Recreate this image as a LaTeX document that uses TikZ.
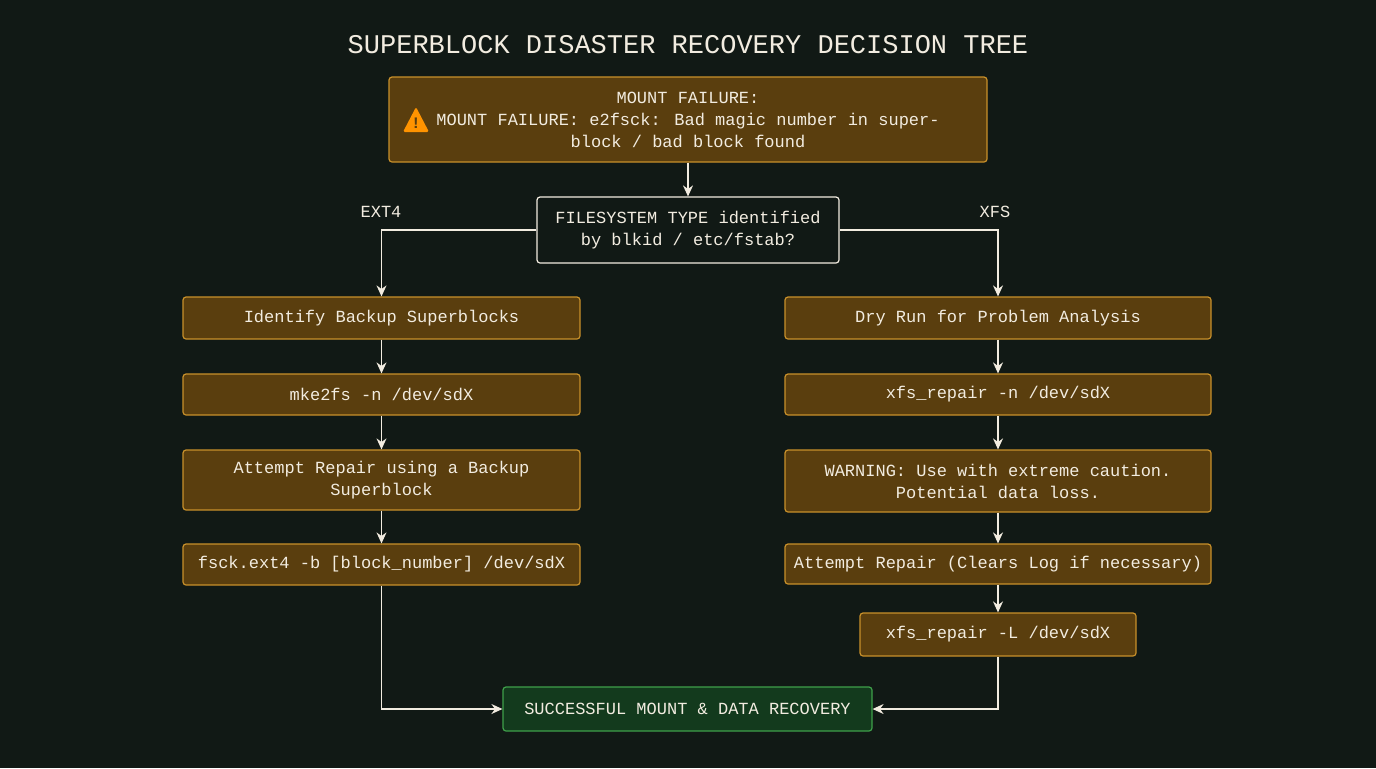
\documentclass[tikz,border=0pt]{standalone}
\usepackage{fontspec}
\setmainfont{Liberation Mono}
\usetikzlibrary{arrows.meta}
\definecolor{bgc}{HTML}{111915}
\definecolor{stepfill}{HTML}{5A3E0E}
\definecolor{stepline}{HTML}{C8902A}
\definecolor{okfill}{HTML}{133A1D}
\definecolor{okline}{HTML}{3FA04A}
\definecolor{txt}{HTML}{F2ECE0}
\begin{document}
\begin{tikzpicture}[x=0.5pt,y=-0.5pt,
    every node/.style={text=txt,font=\fontsize{8.5}{11}\selectfont,align=center},
    stage/.style={draw=stepline,fill=stepfill,rounded corners=1.5pt,line width=0.6pt,inner sep=0pt},
    ok/.style={draw=okline,fill=okfill,rounded corners=1.5pt,line width=0.6pt,inner sep=0pt},
    ask/.style={draw=txt,fill=bgc,rounded corners=1.5pt,line width=0.6pt,inner sep=0pt},
    link/.style={draw=txt,line width=0.6pt,-{Stealth[length=5.5pt,width=5pt]}}]

  \fill[bgc] (0,0) rectangle (1376,768);

  \node (title) at (688,45) {\fontsize{13.5}{15}\selectfont SUPERBLOCK DISASTER RECOVERY DECISION TREE};

  \node[stage,minimum width=299pt,minimum height=42.5pt] (fail) at (688,119.5)
    {MOUNT FAILURE:\\MOUNT FAILURE: e2fsck: Bad magic number in super-\\block / bad block found};
  \fill[orange!85!yellow,rounded corners=0.8pt] (403,132) -- (416,107) -- (429,132) -- cycle;
  \node[text=stepfill,font=\bfseries\fontsize{8}{8}\selectfont] (warnmark) at (416,123) {!};

  \node[ask,minimum width=151pt,minimum height=33pt] (fs) at (688,230)
    {FILESYSTEM TYPE identified\\by blkid / etc/fstab?};

  % ext4 side
  \node[stage,minimum width=198.5pt,minimum height=21pt] (e1) at (381.5,318) {Identify Backup Superblocks};
  \node[stage,minimum width=198.5pt,minimum height=20.5pt] (e2) at (381.5,394.5) {mke2fs -n /dev/sdX};
  \node[stage,minimum width=198.5pt,minimum height=30pt] (e3) at (381.5,480) {Attempt Repair using a Backup\\Superblock};
  \node[stage,minimum width=198.5pt,minimum height=20.5pt] (e4) at (381.5,564.5) {fsck.ext4 -b [block\_number] /dev/sdX};

  % xfs side
  \node[stage,minimum width=213pt,minimum height=21pt] (x1) at (998,318) {Dry Run for Problem Analysis};
  \node[stage,minimum width=213pt,minimum height=20.5pt] (x2) at (998,394.5) {xfs\_repair -n /dev/sdX};
  \node[stage,minimum width=213pt,minimum height=31pt] (x3) at (998,481) {WARNING: Use with extreme caution.\\Potential data loss.};
  \node[stage,minimum width=213pt,minimum height=20pt] (x4) at (998,564) {Attempt Repair (Clears Log if necessary)};
  \node[stage,minimum width=138pt,minimum height=21.5pt] (x5) at (998,634.5) {xfs\_repair -L /dev/sdX};

  \node[ok,minimum width=184.5pt,minimum height=22pt] (done) at (687.5,709) {SUCCESSFUL MOUNT \& DATA RECOVERY};

  \node (ext) at (381,212) {EXT4};
  \node (xfs) at (995,212) {XFS};

  \draw[link] (fail) -- (fs);
  \draw[link] (fs.west) -| (e1.north);
  \draw[link] (fs.east) -| (x1.north);
  \draw[link] (e1) -- (e2);
  \draw[link] (e2) -- (e3);
  \draw[link] (e3) -- (e4);
  \draw[link] (x1) -- (x2);
  \draw[link] (x2) -- (x3);
  \draw[link] (x3) -- (x4);
  \draw[link] (x4) -- (x5);
  \draw[link] (e4.south) |- (done.west);
  \draw[link] (x5.south) |- (done.east);
\end{tikzpicture}
\end{document}
